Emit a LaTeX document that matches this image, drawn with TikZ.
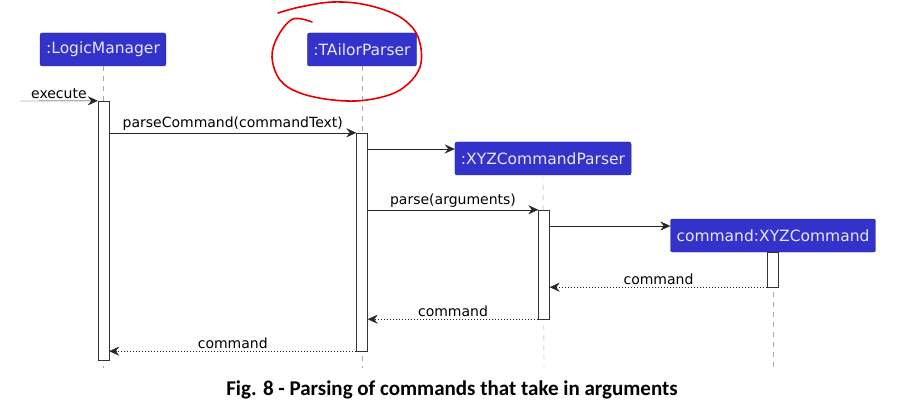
\documentclass[tikz,border=0pt]{standalone}
\usepackage{fontspec}
\setmainfont{DejaVu Sans}
\newfontfamily\capfont{Carlito}
\usetikzlibrary{arrows.meta,positioning,calc}
\definecolor{umlblue}{HTML}{3333CC}
\definecolor{umledge}{HTML}{23238F}
\definecolor{umltext}{HTML}{E6E6F5}

\begin{document}
\begin{tikzpicture}[x=1pt, y=-1pt, >={Stealth[length=10pt,width=9pt,inset=3.5pt]},
    participant/.style={draw=umledge, fill=umlblue, text=umltext, rounded corners=2pt,
        font=\fontsize{15.5}{18}\selectfont, inner xsep=6pt, minimum height=33pt},
    activation/.style={draw=black!80, fill=white, minimum width=11pt, inner sep=0pt},
    lifeline/.style={gray!70, dash pattern=on 5pt off 5pt},
    msg/.style={->, draw=black!85},
    reply/.style={->, draw=black!85, dash pattern=on 1.5pt off 1.5pt},
    msglabel/.style={font=\fontsize{14}{16}\selectfont, above, inner sep=2pt}]
    \useasboundingbox (0,0) rectangle (904,414);

    % Participants
    \node[participant] (logic) at (103,49.5) {:LogicManager};
    \node[participant] (tailor) at (362,49.5) {:TAilorParser};
    \node[participant] (xyzParser) at (543,158.5) {:XYZCommandParser};
    \node[participant] (xyzCmd) at (773,235.5) {command:XYZCommand};

    % Lifelines
    \coordinate (endLogic) at (103,368);
    \coordinate (endTailor) at (362,368);
    \coordinate (endParser) at (544,368);
    \coordinate (endCmd) at (773,368);
    \draw[lifeline] (logic.south) -- (endLogic);
    \draw[lifeline] (tailor.south) -- (endTailor);
    \draw[lifeline] (xyzParser.south) -- (endParser);
    \draw[lifeline] (xyzCmd.south) -- (endCmd);

    % Activations
    \node[activation, minimum height=259pt] (actLogic) at (103.5,230.5) {};
    \node[activation, minimum height=218pt] (actTailor) at (362,242) {};
    \node[activation, minimum height=109pt] (actParser) at (544,264.5) {};
    \node[activation, minimum height=35pt] (actCmd) at (773,269.5) {};

    % Calls
    \coordinate (start) at (20,101);
    \draw[msg] (start) -- node[msglabel] {execute} (actLogic.north west);
    \draw[msg] (actLogic.east |- actTailor.north) -- node[msglabel] {parseCommand(commandText)} (actTailor.north west);
    \draw[msg] ($(actTailor.east |- xyzParser.west)+(0,-9.5)$) -- ($(xyzParser.west)+(0,-9.5)$);
    \draw[msg] (actTailor.east |- actParser.north) -- node[msglabel] {parse(arguments)} (actParser.north west);
    \draw[msg] ($(actParser.east |- xyzCmd.west)+(0,-9.5)$) -- ($(xyzCmd.west)+(0,-9.5)$);

    % Returns
    \draw[reply] (actCmd.south west) -- node[msglabel] {command} (actParser.east |- actCmd.south);
    \draw[reply] (actParser.south west) -- node[msglabel] {command} (actTailor.east |- actParser.south);
    \draw[reply] (actTailor.south west) -- node[msglabel] {command} (actLogic.east |- actTailor.south);

    % Hand-drawn mark
    \draw[red!90!black, line width=1.6pt, line cap=round] plot[smooth, tension=0.6] coordinates {
        (312,22) (293,19) (278,36) (272,57) (280,80) (300,93) (333,100) (367,100)
        (400,90) (420,67) (418,37) (400,17) (367,5) (333,2) (300,7) (278,13)};

    % Caption
    \node[font=\capfont\bfseries\fontsize{21}{24}\selectfont] (caption) at (452,390)
        {Fig. 8 - Parsing of commands that take in arguments};
\end{tikzpicture}
\end{document}
